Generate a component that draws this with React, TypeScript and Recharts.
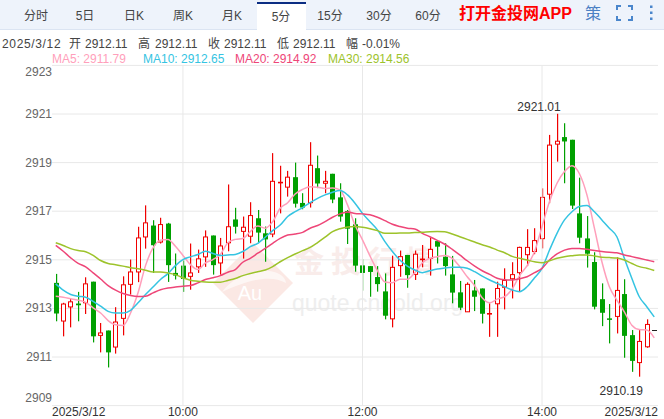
import React from 'react';
import { ComposedChart, Bar, Line, XAxis, YAxis, CartesianGrid, ReferenceLine, ReferenceDot } from 'recharts';

const times = [
  '08:35', '08:40', '08:45', '08:50', '08:55', '09:00', '09:05', '09:10', '09:15', '09:20', '09:25', '09:30',
  '09:35', '09:40', '09:45', '09:50', '09:55', '10:00', '10:05', '10:10', '10:15', '10:20', '10:25', '10:30',
  '10:35', '10:40', '10:45', '10:50', '10:55', '11:00', '11:05', '11:10', '11:15', '11:20', '11:25', '11:30',
  '11:35', '11:40', '11:45', '11:50', '11:55', '12:00', '12:05', '12:10', '12:15', '12:20', '12:25', '12:30',
  '12:35', '12:40', '12:45', '12:50', '12:55', '13:00', '13:05', '13:10', '13:15', '13:20', '13:25', '13:30',
  '13:35', '13:40', '13:45', '13:50', '13:55', '14:00', '14:05', '14:10', '14:15', '14:20', '14:25', '14:30',
  '14:35', '14:40', '14:45', '14:50', '14:55', '15:00', '15:05', '15:10', '15:15',
];

const opens = [
  2914.05, 2912.48, 2913.06, 2913.2, 2913.23, 2914.1, 2911.89, 2912.09, 2911.41, 2912.59, 2913.99, 2914.5,
  2915.94, 2916.41, 2915.73, 2916.49, 2914.46, 2914.76, 2914.32, 2914.71, 2915.12, 2916.0, 2914.87, 2915.7,
  2916.66, 2916.17, 2915.97, 2916.71, 2916.09, 2916.06, 2918.18, 2917.99, 2918.4, 2917.34, 2917.35, 2918.77,
  2918.15, 2918.54, 2917.57, 2917.01, 2916.46, 2914.77, 2914.74, 2914.29, 2913.7, 2912.57, 2914.76, 2915.2,
  2914.4, 2915.02, 2915.06, 2915.77, 2915.13, 2914.4, 2913.66, 2912.86, 2913.74, 2913.82, 2912.78, 2913.19,
  2913.87, 2914.22, 2914.47, 2915.21, 2915.34, 2915.87, 2917.7, 2919.76, 2920.05, 2919.94, 2916.91, 2915.88,
  2914.91, 2913.38, 2912.59, 2912.67, 2913.59, 2911.9, 2910.77, 2911.42, 2912.11,
];
const highs = [
  2914.42, 2913.23, 2913.39, 2913.68, 2914.28, 2914.1, 2912.4, 2912.09, 2913.05, 2914.32, 2915.01, 2916.36,
  2917.24, 2916.63, 2916.73, 2916.52, 2915.26, 2914.97, 2915.67, 2915.42, 2916.21, 2916.0, 2915.9, 2918.1,
  2917.14, 2916.78, 2917.37, 2917.05, 2916.37, 2919.39, 2918.87, 2918.66, 2919.0, 2917.74, 2919.84, 2919.29,
  2918.66, 2918.54, 2918.15, 2917.05, 2916.71, 2915.02, 2914.74, 2914.74, 2914.44, 2915.17, 2915.38, 2915.2,
  2915.38, 2915.61, 2915.91, 2915.77, 2915.68, 2915.16, 2914.13, 2914.07, 2914.17, 2913.82, 2913.21, 2914.1,
  2914.65, 2914.9, 2915.54, 2916.26, 2916.3, 2917.94, 2920.14, 2921.01, 2920.62, 2919.94, 2918.38, 2916.8,
  2915.31, 2914.03, 2913.18, 2915.1, 2914.2, 2912.11, 2912.11, 2912.55, 2912.11,
];
const lows = [
  2912.47, 2911.85, 2912.22, 2912.47, 2912.77, 2911.6, 2911.19, 2910.57, 2911.14, 2911.89, 2913.57, 2914.08,
  2915.46, 2914.46, 2915.67, 2914.09, 2914.19, 2913.68, 2913.77, 2914.46, 2914.71, 2914.39, 2914.39, 2915.35,
  2916.08, 2915.05, 2915.68, 2915.68, 2914.92, 2915.93, 2916.91, 2917.6, 2917.15, 2917.08, 2917.15, 2917.95,
  2917.74, 2917.33, 2916.57, 2915.65, 2914.51, 2913.73, 2913.48, 2913.69, 2912.55, 2912.22, 2914.3, 2913.85,
  2914.17, 2914.69, 2914.35, 2914.85, 2914.35, 2913.21, 2912.93, 2912.86, 2912.89, 2912.38, 2911.83, 2911.83,
  2912.96, 2913.41, 2913.69, 2914.74, 2915.23, 2915.47, 2917.33, 2919.04, 2918.15, 2917.09, 2915.68, 2914.68,
  2912.96, 2912.27, 2911.56, 2911.97, 2910.97, 2910.39, 2910.19, 2911.38, 2912.11,
];
const closes = [
  2912.79, 2913.18, 2913.27, 2913.13, 2914.01, 2911.85, 2911.99, 2911.19, 2912.44, 2913.97, 2914.5, 2915.9,
  2916.52, 2915.6, 2916.45, 2914.78, 2914.35, 2914.21, 2914.46, 2915.04, 2915.94, 2914.78, 2915.57, 2916.36,
  2916.36, 2916.34, 2916.82, 2916.12, 2915.84, 2918.23, 2918.19, 2918.4, 2917.31, 2917.15, 2918.89, 2918.14,
  2918.23, 2917.48, 2916.78, 2916.28, 2914.76, 2914.46, 2914.5, 2914.0, 2912.7, 2914.69, 2915.13, 2914.37,
  2915.23, 2915.03, 2915.43, 2915.54, 2914.74, 2913.65, 2913.03, 2913.99, 2913.48, 2912.78, 2912.79, 2913.82,
  2914.15, 2914.39, 2915.51, 2915.51, 2915.79, 2917.57, 2919.72, 2919.88, 2919.87, 2917.23, 2915.91, 2915.25,
  2913.07, 2912.82, 2912.53, 2913.74, 2911.87, 2910.84, 2911.64, 2912.34, 2912.11,
];

const ma5 = [
  2913.5, 2913.46, 2913.4, 2913.34, 2913.25, 2913.02, 2912.81, 2912.5, 2912.33, 2912.3, 2912.81, 2913.64,
  2914.76, 2915.49, 2915.81, 2915.84, 2915.56, 2915.18, 2914.8, 2914.6, 2914.87, 2915.01, 2915.22, 2915.7,
  2915.84, 2915.88, 2916.16, 2916.39, 2916.3, 2916.57, 2917.12, 2917.35, 2917.71, 2917.9, 2918.01, 2917.99,
  2917.93, 2917.95, 2917.88, 2917.26, 2916.43, 2915.82, 2915.16, 2914.55, 2914.09, 2914.06, 2914.2, 2914.2,
  2914.47, 2914.88, 2915.06, 2915.13, 2915.18, 2915.06, 2914.72, 2914.3, 2913.93, 2913.44, 2913.23, 2913.38,
  2913.48, 2913.8, 2914.35, 2914.76, 2915.34, 2916.37, 2917.4, 2918.15, 2918.63, 2918.87, 2918.54, 2917.67,
  2916.3, 2914.92, 2913.89, 2913.34, 2912.86, 2912.31, 2912.13, 2912.11, 2911.79,
];
const ma10 = [
  2914.01, 2913.75, 2913.57, 2913.5, 2913.46, 2913.29, 2913.09, 2912.88, 2912.81, 2912.81, 2912.92, 2913.23,
  2913.57, 2913.88, 2914.19, 2914.43, 2914.76, 2915.01, 2915.12, 2915.22, 2915.35, 2915.26, 2915.18, 2915.2,
  2915.22, 2915.34, 2915.54, 2915.68, 2915.93, 2916.2, 2916.43, 2916.78, 2916.98, 2917.15, 2917.35, 2917.53,
  2917.67, 2917.78, 2917.85, 2917.67, 2917.33, 2916.91, 2916.57, 2916.23, 2915.75, 2915.34, 2914.99, 2914.74,
  2914.58, 2914.47, 2914.55, 2914.62, 2914.66, 2914.69, 2914.69, 2914.65, 2914.51, 2914.33, 2914.17, 2914.03,
  2913.89, 2913.76, 2913.69, 2913.89, 2914.26, 2914.65, 2915.4, 2916.09, 2916.64, 2916.98, 2917.19, 2917.23,
  2916.98, 2916.64, 2916.3, 2915.95, 2915.06, 2914.24, 2913.48, 2913.07, 2912.65,
];
const ma20 = [
  2915.59, 2915.35, 2915.08, 2914.85, 2914.71, 2914.46, 2914.21, 2913.94, 2913.75, 2913.61, 2913.53, 2913.49,
  2913.5, 2913.64, 2913.77, 2913.84, 2913.88, 2913.91, 2913.94, 2914.05, 2914.19, 2914.26, 2914.35, 2914.49,
  2914.6, 2914.9, 2915.06, 2915.27, 2915.47, 2915.68, 2915.88, 2916.02, 2916.06, 2916.13, 2916.3, 2916.41,
  2916.57, 2916.75, 2916.89, 2916.97, 2916.91, 2916.89, 2916.85, 2916.75, 2916.61, 2916.46, 2916.37, 2916.3,
  2916.27, 2916.09, 2915.95, 2915.8, 2915.64, 2915.43, 2915.2, 2914.96, 2914.74, 2914.55, 2914.4, 2914.24,
  2914.18, 2914.17, 2914.22, 2914.3, 2914.47, 2914.65, 2914.99, 2915.24, 2915.4, 2915.47, 2915.47, 2915.43,
  2915.38, 2915.34, 2915.31, 2915.29, 2915.2, 2915.13, 2915.06, 2914.99, 2914.92,
];
const ma30 = [
  2915.7, 2915.59, 2915.46, 2915.38, 2915.33, 2915.18, 2914.97, 2914.85, 2914.8, 2914.74, 2914.67, 2914.63,
  2914.57, 2914.5, 2914.5, 2914.46, 2914.39, 2914.26, 2914.16, 2914.12, 2914.09, 2914.08, 2914.08, 2914.15,
  2914.23, 2914.35, 2914.44, 2914.51, 2914.58, 2914.72, 2914.92, 2915.09, 2915.24, 2915.38, 2915.51, 2915.71,
  2915.93, 2916.16, 2916.28, 2916.35, 2916.37, 2916.34, 2916.28, 2916.2, 2916.09, 2916.09, 2916.1, 2916.1,
  2916.12, 2916.13, 2916.15, 2916.16, 2916.15, 2916.06, 2915.95, 2915.84, 2915.73, 2915.62, 2915.53, 2915.4,
  2915.29, 2915.14, 2915.06, 2914.99, 2914.92, 2914.88, 2914.96, 2915.06, 2915.13, 2915.17, 2915.2, 2915.2,
  2915.16, 2915.1, 2915.09, 2915.07, 2914.99, 2914.85, 2914.72, 2914.65, 2914.56,
];

const yTicks = [2909, 2911, 2913, 2915, 2917, 2919, 2921, 2923];
const xTicks = ['08:35', '10:00', '12:00', '14:00', '15:15'];
const xLabels = ['2025/3/12', '10:00', '12:00', '14:00', '2025/3/12'];
const tabs = ['分时', '5日', '日K', '周K', '月K', '5分', '15分', '30分', '60分'];
const activeTab = '5分';
const infoParts = ['2025/3/12', '开', '2912.11', '高', '2912.11', '收', '2912.11', '低', '2912.11', '幅', '-0.01%'];
const infoLefts = [2, 69, 85, 138, 155, 208, 224, 277, 293, 346, 362];

const chartData = times.map((time, i) => ({
  time,
  open: opens[i],
  high: highs[i],
  low: lows[i],
  close: closes[i],
  range: [lows[i], highs[i]],
  ma5: ma5[i],
  ma10: ma10[i],
  ma20: ma20[i],
  ma30: ma30[i],
}));

const FONT = '"Liberation Sans", "Noto Sans CJK SC", sans-serif';
const RED = '#f00000';
const GREEN = '#00a000';
const MA_COLORS = ['#ff9fbb', '#35c4e2', '#ee4678', '#9dc32b'];

const Candle = (props: any) => {
  const { x, y, width, height, payload } = props;
  const { open, close, high, low } = payload;
  const cx = Math.round(x + width / 2);
  if (high === low) {
    return <rect x={cx - 2} y={Math.round(y)} width={5} height={1} fill="#222" />;
  }
  const perUnit = height / (high - low);
  const top = y + (high - Math.max(open, close)) * perUnit;
  const bottom = y + (high - Math.min(open, close)) * perUnit;
  const up = close >= open;
  const color = up ? RED : GREEN;
  return (
    <g>
      <rect x={cx} y={y} width={1.2} height={height} fill={color} />
      {up ? (
        <rect x={cx - 1.5} y={top} width={4} height={Math.max(bottom - top, 0.6)} fill="#fff" stroke={color} strokeWidth={1} />
      ) : (
        <rect x={cx - 2} y={top} width={5} height={Math.max(bottom - top, 1.5)} fill={color} />
      )}
    </g>
  );
};

const YTick = (props: any) => {
  const { y, payload } = props;
  let dy = 4;
  if (payload.value === 2923) dy = 11;
  if (payload.value === 2909) dy = -3.5;
  return (
    <text x={52} y={y + dy} textAnchor="end" fontSize={12} fontFamily={FONT} fill="#666">
      {payload.value}
    </text>
  );
};

const XTick = (props: any) => {
  const { x, payload } = props;
  const i = xTicks.indexOf(payload.value);
  let anchor = 'middle';
  let tx = x;
  if (i === 0) {
    anchor = 'start';
    tx = 52;
  }
  if (i === xTicks.length - 1) {
    anchor = 'end';
    tx = 658;
  }
  return (
    <text x={tx} y={416.4} textAnchor={anchor} fontSize={12} fontFamily={FONT} fill="#333">
      {xLabels[i]}
    </text>
  );
};

const Watermark = () => (
  <svg width={664} height={419} style={{ position: 'absolute', left: 0, top: 0 }}>
    <path d="M253 243 L293 283 L253 323 L213 283 Z" fill="#fbe8e4" />
    <path d="M222 292 C245 262 285 268 286 283 C272 275 252 278 222 292 Z" fill="#fff" opacity={0.6} />
    <text x={250} y={300} textAnchor="middle" fontSize={20} fontFamily={FONT} fill="#fff">Au</text>
    <text x={294} y={272} fontSize={30} letterSpacing={7} fontFamily={FONT} fontWeight={700} fill="#f9ecea">金投行情</text>
    <text x={292} y={311} fontSize={23} fontFamily={FONT} fill="#eeeeee">quote.cngold.org</text>
  </svg>
);

const Header = () => (
  <>
    <div style={{ position: 'absolute', left: 0, top: 0, width: 664, height: 29, background: '#eef3fb', borderBottom: '1px solid #dbe4f2' }} />
    {tabs.map((t, i) => (
      <div
        key={t}
        style={{
          position: 'absolute',
          left: 11.5 + i * 49,
          top: t === activeTab ? 2 : 3,
          width: 49,
          height: t === activeTab ? 28 : 26,
          lineHeight: t === activeTab ? '27px' : '26px',
          textAlign: 'center',
          fontSize: 12,
          color: '#444',
          background: t === activeTab ? '#fff' : 'transparent',
          borderTop: t === activeTab ? '2px solid #0b2d83' : 'none',
          boxSizing: 'border-box',
        }}
      >
        {t}
      </div>
    ))}
    <div style={{ position: 'absolute', left: 459, top: 4, fontSize: 16, lineHeight: '20px', fontWeight: 700, color: '#f00', whiteSpace: 'nowrap' }}>打开金投网APP</div>
    <div style={{ position: 'absolute', left: 585, top: 3, fontSize: 16, lineHeight: '22px', color: '#4a80c4' }}>策</div>
    <svg width={50} height={29} style={{ position: 'absolute', left: 610, top: 0 }}>
      <path d="M7 10 V6 H11 M18 6 H22 V10 M22 16 V20 H18 M11 20 H7 V16" fill="none" stroke="#4a86cc" strokeWidth={2} />
      <rect x={40} y={5.5} width={2.5} height={2.5} fill="#4a86cc" />
      <rect x={40} y={11.5} width={2.5} height={2.5} fill="#4a86cc" />
      <rect x={40} y={17.5} width={2.5} height={2.5} fill="#4a86cc" />
    </svg>
    {infoParts.map((p, i) => (
      <div
        key={i}
        style={{
          position: 'absolute',
          left: infoLefts[i],
          top: 37,
          fontSize: 12,
          lineHeight: '15px',
          color: '#444',
          whiteSpace: 'nowrap',
          letterSpacing: i === 0 ? 0.65 : 0,
        }}
      >
        {p}
      </div>
    ))}
    {[ma5, ma10, ma20, ma30].map((ma, i) => (
      <div
        key={i}
        style={{
          position: 'absolute',
          left: [52, 143, 235, 328][i],
          top: 52,
          fontSize: 12,
          lineHeight: '15px',
          color: MA_COLORS[i],
          whiteSpace: 'nowrap',
        }}
      >
        {`MA${[5, 10, 20, 30][i]}: ${ma[ma.length - 1].toFixed(2)}`}
      </div>
    ))}
  </>
);

const peakLabel = (dx: number, dy: number, text: string) => (props: any) => (
  <text x={props.viewBox.x + dx} y={props.viewBox.y + dy} textAnchor="middle" fontSize={12} fontFamily={FONT} fill="#333">
    {text}
  </text>
);

export default function App() {
  return (
    <div style={{ position: 'fixed', left: 0, top: 0, width: 664, height: 419, background: '#fff', overflow: 'hidden', fontFamily: FONT }}>
      <Watermark />
      <Header />
      <div style={{ position: 'absolute', left: 0, top: 0 }}>
        <ComposedChart
          width={664}
          height={419}
          data={chartData}
          margin={{ top: 65.4, right: 6, bottom: 0, left: 0 }}
        >
          <CartesianGrid vertical={false} stroke="#e8e8e8" />
          <XAxis
            dataKey="time"
            ticks={xTicks}
            interval={0}
            height={13.4}
            axisLine={false}
            tickLine={false}
            tick={<XTick />}
          />
          <YAxis
            type="number"
            domain={[2909, 2923]}
            ticks={yTicks}
            width={52}
            axisLine={false}
            tickLine={false}
            tick={<YTick />}
            allowDataOverflow
          />
          <ReferenceLine x="10:00" stroke="#e8e8e8" />
          <ReferenceLine x="12:00" stroke="#e8e8e8" />
          <ReferenceLine x="14:00" stroke="#e8e8e8" />
          <Bar dataKey="range" barSize={5} shape={<Candle />} isAnimationActive={false} />
          <Line dataKey="ma5" type="monotone" stroke={MA_COLORS[0]} strokeWidth={1.5} dot={false} isAnimationActive={false} />
          <Line dataKey="ma10" type="monotone" stroke={MA_COLORS[1]} strokeWidth={1.5} dot={false} isAnimationActive={false} />
          <Line dataKey="ma20" type="monotone" stroke={MA_COLORS[2]} strokeWidth={1.5} dot={false} isAnimationActive={false} />
          <Line dataKey="ma30" type="monotone" stroke={MA_COLORS[3]} strokeWidth={1.5} dot={false} isAnimationActive={false} />
          <ReferenceDot x="14:10" y={2921.01} r={0} stroke="none" label={peakLabel(-18, -3, '2921.01')} />
          <ReferenceDot x="15:05" y={2910.19} r={0} stroke="none" label={peakLabel(-18, 18, '2910.19')} />
        </ComposedChart>
      </div>
    </div>
  );
}
